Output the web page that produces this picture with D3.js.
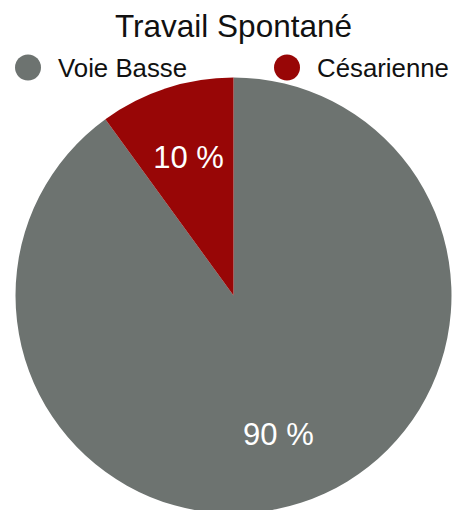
<!DOCTYPE html>
<html><head><meta charset="utf-8">
<script src="https://cdn.jsdelivr.net/npm/d3@7"></script>
<style>html,body{margin:0;padding:0;background:#fff;}svg{display:block;font-family:"Liberation Sans",Arial,Helvetica,sans-serif;}</style>
</head><body>
<svg id="c" width="453" height="510"></svg>
<script>
const title = "Travail Spontané";
const categories = ["Voie Basse", "Césarienne"];
const values = [90, 10];
const colors = ["#6d7370", "#980606"];

const svg = d3.select("#c");
const cx = 233.5, cy = 295.5, R = 218;

svg.append("text").attr("x", 233.5).attr("y", 37).attr("text-anchor", "middle")
  .attr("font-size", 31.5).attr("fill", "#111").text(title);

// legend
const legendX = [28, 287];
categories.forEach((c, i) => {
  svg.append("circle").attr("cx", legendX[i]).attr("cy", 67.5).attr("r", 13).attr("fill", colors[i]);
  svg.append("text").attr("x", legendX[i] + 30).attr("y", 77).attr("font-size", 25.8)
    .attr("fill", "#111").text(c);
});

const data = categories.map((c, i) => ({c, v: values[i], col: colors[i]}));
const pie = d3.pie().value(d => d.v).sort(null);
const arcs = pie(data);
const arc = d3.arc().innerRadius(0).outerRadius(R);
const labelArc = d3.arc().innerRadius(R * 2 / 3).outerRadius(R * 2 / 3);

const g = svg.append("g").attr("transform", `translate(${cx},${cy})`);
g.selectAll("path.s").data(arcs).join("path").attr("class", "s")
  .attr("d", arc).attr("fill", d => d.data.col);
g.selectAll("text.l").data(arcs).join("text").attr("class", "l")
  .attr("transform", d => { const p = labelArc.centroid(d); return `translate(${p[0]},${p[1]})`; })
  .attr("text-anchor", "middle").attr("dy", "0.36em")
  .attr("font-size", 31).attr("fill", "#fff")
  .text(d => d.data.v + " %");
</script>
</body></html>
